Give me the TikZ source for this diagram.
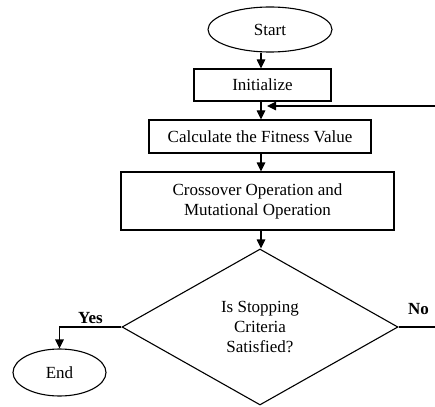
\documentclass[tikz,border=0pt]{standalone}
\usepackage{fontspec}
\setmainfont{Liberation Serif}
\usetikzlibrary{shapes.geometric,arrows.meta}
\begin{document}
\begin{tikzpicture}[x=1pt,y=-1pt,
  every node/.style={font=\fontsize{17}{20}\selectfont, inner sep=0pt, line width=1.1pt},
  term/.style={draw, ellipse},
  proc/.style={draw, rectangle, align=center},
  decide/.style={draw, diamond, align=center},
  lbl/.style={font=\fontsize{17}{20}\selectfont\bfseries},
  arr/.style={line width=1.1pt, -{Triangle[length=9pt,width=8.5pt]}},
  ln/.style={line width=1.1pt}]
\useasboundingbox (0,0) rectangle (435,406);
\node[term, minimum width=124pt, minimum height=45pt] (start) at (270,29.5) {Start};
\node[proc, minimum width=137pt, minimum height=32pt] (init) at (262.5,85) {Initialize};
\node[proc, minimum width=222pt, minimum height=33pt] (calc) at (260,136.5) {Calculate the Fitness Value};
\node[proc, minimum width=273pt, minimum height=58pt] (cross) at (257.5,201) {Crossover Operation and\\Mutational Operation};
\node[decide, minimum width=276pt, minimum height=156pt] (dec) at (260,327) {Is Stopping\\Criteria\\Satisfied?};
\node[term, minimum width=93pt, minimum height=47pt] (end) at (59.5,372.5) {End};
\coordinate (fbin) at (436,106);
\coordinate (noout) at (436,327);
\node[lbl] (yes) at (90.5,318) {Yes};
\node[lbl] (no) at (418.5,309) {No};
\draw[arr] ([xshift=-9pt]start.south) -- ([xshift=-1.5pt]init.north);
\draw[arr] ([xshift=-1.5pt]init.south) -- ([xshift=1pt]calc.north);
\draw[arr] ([xshift=1pt]calc.south) -- ([xshift=3.5pt]cross.north);
\draw[arr] ([xshift=3.5pt]cross.south) -- ([xshift=1pt]dec.north);
\draw[arr] (fbin) -- ([xshift=4.5pt]init.south |- fbin);
\draw[ln] (dec.east) -- (noout);
\draw[arr] (dec.west) -| (end.north);
\end{tikzpicture}
\end{document}
